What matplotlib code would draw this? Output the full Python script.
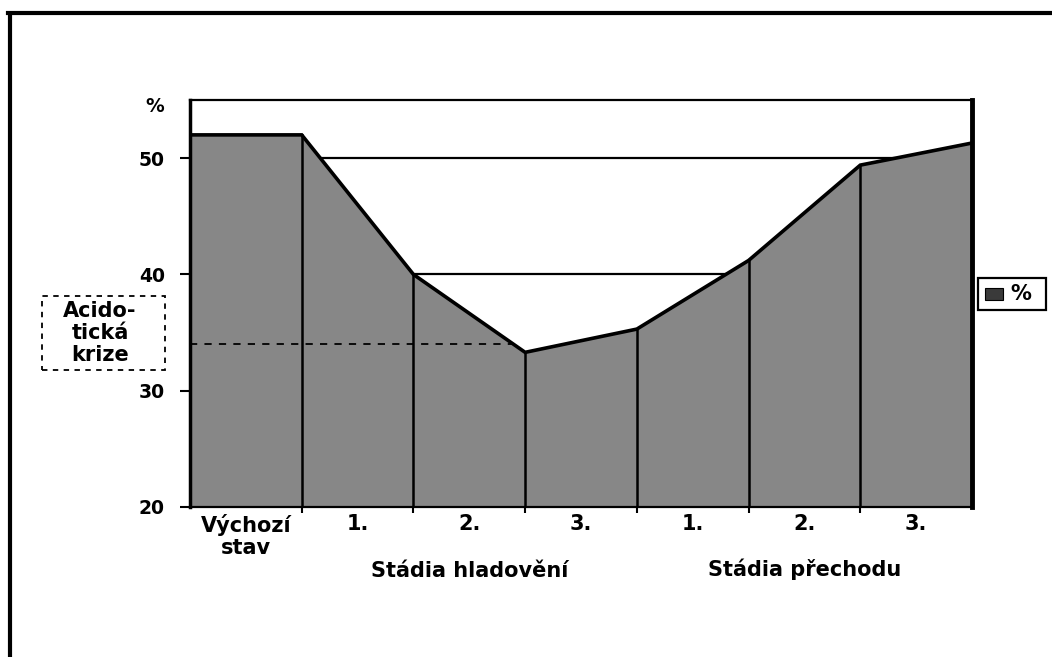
import matplotlib
matplotlib.use("Agg")
import matplotlib.pyplot as plt
from matplotlib.patches import Rectangle
import numpy as np

# Data: values at the category boundaries (area chart, first category flat)
boundary_values = [52.0, 52.0, 40.0, 33.3, 35.3, 41.2, 49.4, 51.3]
category_labels = ["Výchozí\nstav", "1.", "2.", "3.", "1.", "2.", "3."]
group_labels = ["Stádia hladovění", "Stádia přechodu"]
y_ticks = [20, 30, 40, 50]
crisis_level = 34.0
series_name = "%"

plt.rcParams['font.family'] = ['DejaVu Sans']
FS = 13.5
FS2 = 15.0

fig = plt.figure(figsize=(10.52, 6.57), dpi=100)
ax = fig.add_axes([190/1052, 1-507/657, (972-190)/1052, (507-100)/657])

x = np.arange(len(boundary_values))
fill_color = '#878787'

# gridlines behind
for yv in y_ticks[1:]:
    ax.axhline(yv, color='black', lw=1.6, zorder=1)

ax.fill_between(x, 20, boundary_values, color=fill_color, lw=0, zorder=2)
ax.plot(x, boundary_values, color='black', lw=2.6, zorder=4, solid_joinstyle='miter')
for xi in x[1:-1]:
    ax.plot([xi, xi], [20, boundary_values[xi]], color='black', lw=1.8, zorder=3)

# dashed crisis level line
xv = np.array(x, dtype=float)
bv = np.array(boundary_values)
cross = None
for i in range(len(bv)-1):
    if bv[i] >= crisis_level >= bv[i+1]:
        cross = xv[i] + (bv[i]-crisis_level)/(bv[i]-bv[i+1])
        break
ax.plot([0, cross], [crisis_level, crisis_level], color='black', lw=1.3,
        ls=(0, (4, 4)), zorder=3)

ax.set_xlim(0, 7)
ax.set_ylim(20, 55)
ax.set_yticks(y_ticks)
ax.set_yticklabels([str(v) for v in y_ticks], fontsize=FS, fontweight='bold')
ax.set_xticks(x[1:-1])
ax.set_xticklabels([])
ax.tick_params(axis='y', direction='out', length=7, width=1.5, pad=11)
ax.tick_params(axis='x', direction='out', length=4, width=1.5)

for side, lw in [('left', 2.5), ('top', 1.6), ('right', 3.5), ('bottom', 1.6)]:
    ax.spines[side].set_linewidth(lw)
    ax.spines[side].set_zorder(5)

# category labels
for i, lab in enumerate(category_labels):
    ax.text(i + 0.5, 19.4, lab, ha='center', va='top', fontsize=FS2,
            fontweight='bold', linespacing=1.15)
ax.text(2.5, 15.35, group_labels[0], ha='center', va='top', fontsize=FS2, fontweight='bold')
ax.text(5.5, 15.55, group_labels[1], ha='center', va='top', fontsize=FS2, fontweight='bold')

# % label at top of y-axis
fig.text(155/1052, 1-107/657, "%", ha='center', va='center', fontsize=FS, fontweight='bold')

# Acidotická krize box
fig.patches.append(Rectangle((42/1052, 1-370/657), (165-42)/1052, (370-296)/657,
                             transform=fig.transFigure, fill=False, ec='black',
                             lw=1.3, ls=(0, (3, 3))))
fig.text(100/1052, 1-333/657, "Acido-\ntická\nkrize", ha='center', va='center',
         fontsize=FS2, fontweight='bold', linespacing=1.1)

# legend box
fig.patches.append(Rectangle((978/1052, 1-310/657), (1046-978)/1052, (310-278)/657,
                             transform=fig.transFigure, facecolor='white', ec='black', lw=1.6))
fig.patches.append(Rectangle((985/1052, 1-300/657), 18/1052, 12/657,
                             transform=fig.transFigure, facecolor='#3a3a3a', ec='black', lw=0.8))
fig.text(1010/1052, 1-294/657, series_name, ha='left', va='center', fontsize=FS2, fontweight='bold')

# scanned page border lines (top and left)
fig.add_artist(plt.Line2D([8/1052, 1], [1-13/657, 1-13/657], transform=fig.transFigure,
                          color='black', lw=3))
fig.add_artist(plt.Line2D([10/1052, 10/1052], [1-15/657, 0], transform=fig.transFigure,
                          color='black', lw=3))

fig.savefig("out.png", dpi=100)
